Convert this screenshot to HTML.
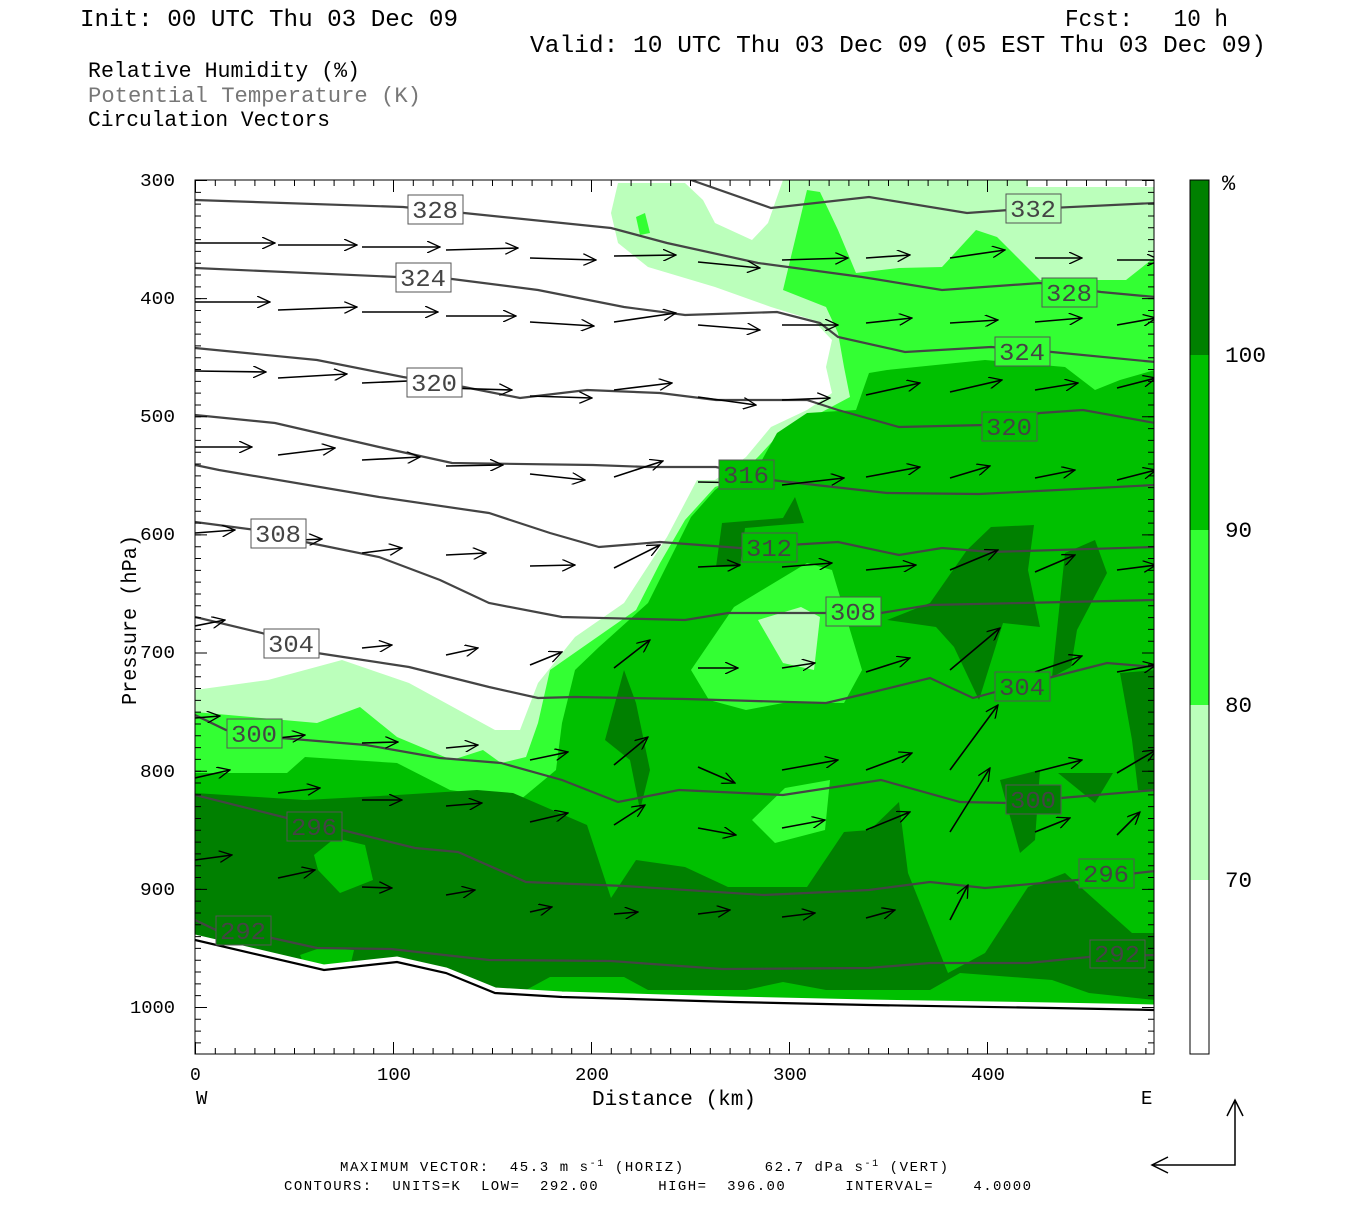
<!DOCTYPE html>
<html><head><meta charset="utf-8"><style>
body{margin:0;background:#fff;width:1350px;height:1200px;overflow:hidden}
svg text{font-family:"Liberation Mono",monospace;white-space:pre}
</style></head><body>
<svg width="1350" height="1200" viewBox="0 0 1350 1200" xmlns="http://www.w3.org/2000/svg">
<defs>
<marker id="ah" markerWidth="14" markerHeight="12" refX="13" refY="6" orient="auto" markerUnits="userSpaceOnUse"><path d="M0,0 L13,6 L0,12" fill="none" stroke="#000" stroke-width="1.3"/></marker>
<clipPath id="pc"><rect x="195" y="180" width="959" height="874"/></clipPath>
</defs>
<text x="80" y="26" font-size="24" textLength="378" lengthAdjust="spacingAndGlyphs">Init: 00 UTC Thu 03 Dec 09</text>
<text x="1065" y="26" font-size="24" textLength="163" lengthAdjust="spacingAndGlyphs">Fcst:   10 h</text>
<text x="530" y="52" font-size="24" textLength="736" lengthAdjust="spacingAndGlyphs">Valid: 10 UTC Thu 03 Dec 09 (05 EST Thu 03 Dec 09)</text>
<text x="88" y="77" font-size="22" textLength="272" lengthAdjust="spacingAndGlyphs">Relative Humidity (%)</text>
<text x="88" y="102" font-size="22" fill="#777" textLength="333" lengthAdjust="spacingAndGlyphs">Potential Temperature (K)</text>
<text x="88" y="126" font-size="22" textLength="242" lengthAdjust="spacingAndGlyphs">Circulation Vectors</text>

<g clip-path="url(#pc)">
<rect x="195" y="180" width="959" height="874" fill="#fff"/>
<polygon fill="#bbffbb" points="618,183 624,183 660,183 685,183 703,200 715,223 752,240 768,223 783,180 1028,180 1028,187 1155,187 1155,1054 195,1054 195,690 268,680 342,660 409,683 495,730 520,730 538,683 575,637 624,603 667,537 697,480 715,480 746,457 771,427 807,410 832,393 826,367 832,340 813,320 771,307 715,287 648,267 618,243 611,213"/>
<polygon fill="#33ff33" points="783,290 807,190 820,192 838,230 856,273 899,268 942,267 976,230 997,237 1040,280 1126,280 1155,257 1155,1054 195,1054 195,712 317,723 360,707 397,737 452,760 483,750 501,763 526,757 538,723 550,670 593,640 636,610 660,563 685,520 715,487 734,480 758,457 783,430 820,413 850,397 844,367 838,333 826,307"/>
<polygon fill="#33ff33" points="636,217 645,213 650,233 640,235"/>
<polygon fill="#00c000" points="728,480 758,467 777,433 807,413 856,410 869,373 887,370 985,360 1065,367 1095,390 1120,380 1155,370 1155,1054 195,1054 195,773 287,773 305,757 397,763 450,790 520,800 556,770 562,723 575,670 599,647 648,603 673,553 691,517 715,490"/>
<polygon fill="#33ff33" points="691,670 734,607 807,563 832,570 862,670 844,703 783,703 746,710 709,700"/>
<polygon fill="#bbffbb" points="758,620 801,607 820,617 814,670 783,663"/>
<polygon fill="#33ff33" points="752,820 785,788 830,780 825,830 775,843"/>
<polygon fill="#008000" points="195,793 305,800 397,795 477,790 513,793 587,825 611,898 636,860 685,867 728,887 807,887 844,832 870,830 899,802 908,873 948,973 985,953 1028,887 1065,873 1095,900 1132,933 1155,933 1155,1054 195,1054"/>
<polygon fill="#00c000" points="314,855 335,838 365,845 373,880 340,893 318,870"/>
<polygon fill="#00c000" points="515,1054 526,990 550,977 624,977 648,990 746,990 783,982 826,990 930,990 960,973 1052,980 1089,993 1155,1000 1155,1054"/>
<polygon fill="#00c000" points="300,955 320,948 354,950 350,967 305,967"/>
<polygon fill="#008000" points="716,567 722,523 783,518 795,497 804,523 745,528 740,567"/>
<polygon fill="#008000" points="887,620 930,603 967,550 991,527 1034,525 1028,570 1040,627 1003,623 979,700 954,647 936,627"/>
<polygon fill="#008000" points="1052,677 1065,553 1095,540 1107,573 1077,630 1071,667"/>
<polygon fill="#008000" points="605,740 624,670 636,703 650,770 640,810 630,760"/>
<polygon fill="#008000" points="1120,673 1155,670 1155,790 1138,790 1132,740"/>
<polygon fill="#008000" points="1000,780 1040,770 1035,840 1020,853"/>
<polygon fill="#008000" points="1058,773 1113,773 1095,803"/>
<polygon fill="#fff" points="195,940 324,970 397,962 446,973 495,993 562,997 734,1002 869,1005 1052,1008 1155,1010 1155,1054 195,1054"/>
<polyline fill="none" stroke="#fff" stroke-width="5" points="195,937 324,967 397,959 446,970 495,990 562,994 734,999 869,1002 1052,1005 1155,1007"/>
<polyline fill="none" stroke="#000" stroke-width="2.2" points="195,940 324,970 397,962 446,973 495,993 562,997 734,1002 869,1005 1052,1008 1155,1010"/>
<g fill="none" stroke="#444" stroke-width="2.2">
<polyline points="691,180 771,208 869,197 967,213 1009,210 1155,203"/>
<polyline points="195,200 403,207 464,213 611,228 667,243 758,263 862,277 942,290 1040,283 1101,292 1155,297"/>
<polyline points="195,268 397,277 452,279 538,290 624,307 685,315 777,312 820,323 838,337 905,352 991,347 1052,352 1155,362"/>
<polyline points="195,348 317,360 403,377 464,387 520,398 587,390 660,393 716,400 807,400 838,410 899,427 985,425 1040,413 1083,410 1155,423"/>
<polyline points="195,415 275,423 379,447 452,463 593,465 648,467 716,467 771,480 887,493 979,494 1155,485"/>
<polyline points="195,465 219,470 379,497 489,513 550,533 599,547 660,542 740,548 838,542 899,555 942,548 991,552 1155,547"/>
<polyline points="195,522 256,530 305,542 379,557 440,580 489,603 562,617 685,620 728,613 826,613 881,613 930,605 1155,600"/>
<polyline points="195,617 262,633 317,653 409,667 489,687 538,698 575,697 685,699 826,703 869,693 930,678 973,698 1010,688 1052,677 1107,663 1155,667"/>
<polyline points="195,715 226,730 281,738 366,745 440,758 501,763 562,780 618,802 679,790 783,795 881,780 960,802 1009,803 1061,798 1155,790"/>
<polyline points="195,795 287,818 342,830 415,848 458,852 526,882 624,886 764,895 869,890 930,882 985,888 1077,880 1155,871"/>
<polyline points="195,920 216,930 272,938 317,948 391,949 489,960 611,961 722,969 869,968 930,963 1028,963 1089,957 1155,955"/>
</g>
<g fill="none" stroke="#000" stroke-width="1.6" marker-end="url(#ah)">
<line x1="195" y1="243" x2="275" y2="243"/><line x1="278" y1="245" x2="357" y2="245"/><line x1="362" y1="247" x2="440" y2="247"/><line x1="446" y1="250" x2="518" y2="248"/><line x1="530" y1="258" x2="596" y2="260"/><line x1="614" y1="256" x2="676" y2="255"/><line x1="698" y1="262" x2="760" y2="268"/><line x1="782" y1="260" x2="848" y2="258"/><line x1="866" y1="258" x2="910" y2="255"/><line x1="950" y1="258" x2="1005" y2="250"/><line x1="1035" y1="258" x2="1082" y2="258"/><line x1="1117" y1="260" x2="1160" y2="260"/>
<line x1="195" y1="302" x2="270" y2="302"/><line x1="278" y1="310" x2="357" y2="307"/><line x1="362" y1="312" x2="438" y2="312"/><line x1="446" y1="316" x2="516" y2="316"/><line x1="530" y1="322" x2="594" y2="326"/><line x1="614" y1="322" x2="676" y2="313"/><line x1="698" y1="325" x2="760" y2="330"/><line x1="782" y1="325" x2="838" y2="325"/><line x1="866" y1="323" x2="912" y2="318"/><line x1="950" y1="323" x2="998" y2="320"/><line x1="1035" y1="322" x2="1082" y2="318"/><line x1="1117" y1="325" x2="1156" y2="318"/>
<line x1="195" y1="371" x2="266" y2="372"/><line x1="278" y1="378" x2="347" y2="374"/><line x1="362" y1="383" x2="430" y2="380"/><line x1="446" y1="388" x2="512" y2="390"/><line x1="530" y1="396" x2="592" y2="398"/><line x1="614" y1="390" x2="672" y2="383"/><line x1="698" y1="397" x2="756" y2="405"/><line x1="782" y1="400" x2="830" y2="398"/><line x1="866" y1="395" x2="920" y2="383"/><line x1="950" y1="392" x2="1002" y2="380"/><line x1="1035" y1="390" x2="1078" y2="383"/><line x1="1117" y1="388" x2="1156" y2="378"/>
<line x1="195" y1="447" x2="252" y2="447"/><line x1="278" y1="455" x2="335" y2="448"/><line x1="362" y1="460" x2="420" y2="457"/><line x1="446" y1="466" x2="503" y2="465"/><line x1="530" y1="474" x2="585" y2="480"/><line x1="614" y1="477" x2="663" y2="461"/><line x1="698" y1="482" x2="754" y2="483"/><line x1="782" y1="485" x2="844" y2="478"/><line x1="866" y1="477" x2="920" y2="467"/><line x1="950" y1="478" x2="990" y2="466"/><line x1="1035" y1="478" x2="1075" y2="470"/><line x1="1117" y1="480" x2="1156" y2="470"/>
<line x1="195" y1="533" x2="235" y2="530"/><line x1="278" y1="541" x2="322" y2="539"/><line x1="362" y1="553" x2="402" y2="548"/><line x1="446" y1="555" x2="486" y2="553"/><line x1="530" y1="566" x2="575" y2="565"/><line x1="614" y1="568" x2="660" y2="545"/><line x1="698" y1="567" x2="740" y2="565"/><line x1="782" y1="567" x2="832" y2="563"/><line x1="866" y1="570" x2="916" y2="565"/><line x1="950" y1="570" x2="998" y2="550"/><line x1="1035" y1="572" x2="1075" y2="555"/><line x1="1117" y1="570" x2="1156" y2="565"/>
<line x1="195" y1="626" x2="225" y2="620"/><line x1="278" y1="647" x2="305" y2="640"/><line x1="362" y1="648" x2="392" y2="645"/><line x1="446" y1="655" x2="478" y2="648"/><line x1="530" y1="665" x2="562" y2="652"/><line x1="614" y1="668" x2="650" y2="640"/><line x1="698" y1="668" x2="738" y2="668"/><line x1="782" y1="668" x2="815" y2="663"/><line x1="866" y1="672" x2="910" y2="658"/><line x1="950" y1="670" x2="1000" y2="628"/><line x1="1035" y1="672" x2="1082" y2="656"/><line x1="1117" y1="672" x2="1156" y2="665"/>
<line x1="195" y1="718" x2="220" y2="716"/><line x1="278" y1="738" x2="305" y2="735"/><line x1="362" y1="743" x2="398" y2="742"/><line x1="446" y1="748" x2="478" y2="745"/><line x1="530" y1="760" x2="568" y2="752"/><line x1="614" y1="765" x2="648" y2="737"/><line x1="698" y1="767" x2="735" y2="783"/><line x1="782" y1="770" x2="838" y2="760"/><line x1="866" y1="770" x2="912" y2="753"/><line x1="950" y1="770" x2="998" y2="705"/><line x1="1035" y1="772" x2="1082" y2="760"/><line x1="1117" y1="773" x2="1156" y2="750"/>
<line x1="195" y1="778" x2="230" y2="770"/><line x1="278" y1="793" x2="320" y2="788"/><line x1="362" y1="800" x2="402" y2="800"/><line x1="446" y1="806" x2="482" y2="803"/><line x1="530" y1="822" x2="568" y2="813"/><line x1="614" y1="825" x2="645" y2="805"/><line x1="698" y1="828" x2="736" y2="835"/><line x1="782" y1="828" x2="825" y2="820"/><line x1="866" y1="830" x2="910" y2="812"/><line x1="950" y1="832" x2="990" y2="768"/><line x1="1035" y1="832" x2="1070" y2="818"/><line x1="1117" y1="835" x2="1140" y2="812"/>
<line x1="195" y1="860" x2="232" y2="855"/><line x1="278" y1="878" x2="315" y2="870"/><line x1="362" y1="887" x2="392" y2="888"/><line x1="446" y1="895" x2="475" y2="890"/><line x1="530" y1="912" x2="552" y2="907"/><line x1="614" y1="914" x2="638" y2="912"/><line x1="698" y1="914" x2="730" y2="910"/><line x1="782" y1="917" x2="815" y2="913"/><line x1="866" y1="918" x2="895" y2="910"/><line x1="950" y1="920" x2="968" y2="885"/>
</g>
<g font-size="24" fill="#444" stroke="#555" stroke-width="1">
<rect x="408" y="195" width="55" height="29" fill="#fff"/><text x="412" y="218" stroke="none" textLength="46" lengthAdjust="spacingAndGlyphs">328</text>
<rect x="396" y="263" width="55" height="29" fill="#fff"/><text x="400" y="286" stroke="none" textLength="46" lengthAdjust="spacingAndGlyphs">324</text>
<rect x="407" y="368" width="55" height="29" fill="#fff"/><text x="411" y="391" stroke="none" textLength="46" lengthAdjust="spacingAndGlyphs">320</text>
<rect x="251" y="519" width="55" height="29" fill="#fff"/><text x="255" y="542" stroke="none" textLength="46" lengthAdjust="spacingAndGlyphs">308</text>
<rect x="264" y="629" width="55" height="29" fill="#fff"/><text x="268" y="652" stroke="none" textLength="46" lengthAdjust="spacingAndGlyphs">304</text>
<rect x="227" y="719" width="55" height="29" fill="#33ff33"/><text x="231" y="742" stroke="none" textLength="46" lengthAdjust="spacingAndGlyphs">300</text>
<rect x="287" y="812" width="55" height="29" fill="#008000"/><text x="291" y="835" stroke="none" textLength="46" lengthAdjust="spacingAndGlyphs">296</text>
<rect x="216" y="916" width="55" height="29" fill="#008000"/><text x="220" y="939" stroke="none" textLength="46" lengthAdjust="spacingAndGlyphs">292</text>
<rect x="1006" y="194" width="55" height="29" fill="#bbffbb"/><text x="1010" y="217" stroke="none" textLength="46" lengthAdjust="spacingAndGlyphs">332</text>
<rect x="1042" y="278" width="55" height="29" fill="#33ff33"/><text x="1046" y="301" stroke="none" textLength="46" lengthAdjust="spacingAndGlyphs">328</text>
<rect x="995" y="337" width="55" height="29" fill="#33ff33"/><text x="999" y="360" stroke="none" textLength="46" lengthAdjust="spacingAndGlyphs">324</text>
<rect x="982" y="412" width="55" height="29" fill="#00c000"/><text x="986" y="435" stroke="none" textLength="46" lengthAdjust="spacingAndGlyphs">320</text>
<rect x="719" y="460" width="55" height="29" fill="#00c000"/><text x="723" y="483" stroke="none" textLength="46" lengthAdjust="spacingAndGlyphs">316</text>
<rect x="742" y="533" width="55" height="29" fill="#00c000"/><text x="746" y="556" stroke="none" textLength="46" lengthAdjust="spacingAndGlyphs">312</text>
<rect x="826" y="597" width="55" height="29" fill="#33ff33"/><text x="830" y="620" stroke="none" textLength="46" lengthAdjust="spacingAndGlyphs">308</text>
<rect x="995" y="672" width="55" height="29" fill="#00c000"/><text x="999" y="695" stroke="none" textLength="46" lengthAdjust="spacingAndGlyphs">304</text>
<rect x="1006" y="785" width="55" height="29" fill="#008000"/><text x="1010" y="808" stroke="none" textLength="46" lengthAdjust="spacingAndGlyphs">300</text>
<rect x="1079" y="859" width="55" height="29" fill="#00c000"/><text x="1083" y="882" stroke="none" textLength="46" lengthAdjust="spacingAndGlyphs">296</text>
<rect x="1090" y="940" width="55" height="28" fill="#008000"/><text x="1094" y="962" stroke="none" textLength="46" lengthAdjust="spacingAndGlyphs">292</text>
</g>
</g>
<rect x="195" y="180" width="959" height="874" fill="none" stroke="#000" stroke-width="1"/>
<g stroke="#000" fill="none">
<line x1="195" y1="1051" x2="1154" y2="1051" stroke-width="6" stroke-dasharray="1 18.8"/>
<line x1="195" y1="183" x2="1154" y2="183" stroke-width="6" stroke-dasharray="1 18.8"/>
<line x1="195" y1="1048" x2="1154" y2="1048" stroke-width="12" stroke-dasharray="1 197"/>
<line x1="195" y1="186" x2="1154" y2="186" stroke-width="12" stroke-dasharray="1 197"/>
<line x1="198" y1="180" x2="198" y2="1054" stroke-width="6" stroke-dasharray="1 10.814"/>
<line x1="1151" y1="180" x2="1151" y2="1054" stroke-width="6" stroke-dasharray="1 10.814"/>
<line x1="201" y1="180" x2="201" y2="1054" stroke-width="12" stroke-dasharray="1 117.14"/>
<line x1="1148" y1="180" x2="1148" y2="1054" stroke-width="12" stroke-dasharray="1 117.14"/>
</g>
<g font-size="18">
<text x="140" y="186" textLength="35" lengthAdjust="spacingAndGlyphs">300</text><text x="140" y="304" textLength="35" lengthAdjust="spacingAndGlyphs">400</text><text x="140" y="422" textLength="35" lengthAdjust="spacingAndGlyphs">500</text><text x="140" y="540" textLength="35" lengthAdjust="spacingAndGlyphs">600</text><text x="140" y="658" textLength="35" lengthAdjust="spacingAndGlyphs">700</text><text x="140" y="777" textLength="35" lengthAdjust="spacingAndGlyphs">800</text><text x="140" y="895" textLength="35" lengthAdjust="spacingAndGlyphs">900</text><text x="130" y="1013" textLength="45" lengthAdjust="spacingAndGlyphs">1000</text>
<text x="190" y="1080">0</text><text x="377" y="1080" textLength="34" lengthAdjust="spacingAndGlyphs">100</text><text x="575" y="1080" textLength="34" lengthAdjust="spacingAndGlyphs">200</text><text x="773" y="1080" textLength="34" lengthAdjust="spacingAndGlyphs">300</text><text x="971" y="1080" textLength="34" lengthAdjust="spacingAndGlyphs">400</text>
<text x="196" y="1104" font-size="19">W</text><text x="1141" y="1104" font-size="19">E</text>
</g>
<text x="592" y="1105" font-size="21" textLength="164" lengthAdjust="spacingAndGlyphs">Distance (km)</text>
<text transform="translate(136,705) rotate(-90)" font-size="21" textLength="170" lengthAdjust="spacingAndGlyphs">Pressure (hPa)</text>
<rect x="1190" y="880" width="19" height="174" fill="#fff"/>
<rect x="1190" y="705" width="19" height="175" fill="#bbffbb"/>
<rect x="1190" y="530" width="19" height="175" fill="#33ff33"/>
<rect x="1190" y="355" width="19" height="175" fill="#00c000"/>
<rect x="1190" y="180" width="19" height="175" fill="#008000"/>
<rect x="1190" y="180" width="19" height="874" fill="none" stroke="#000"/>
<g font-size="22"><text x="1222" y="190">%</text><text x="1225" y="362" textLength="41" lengthAdjust="spacingAndGlyphs">100</text><text x="1225" y="537" textLength="27" lengthAdjust="spacingAndGlyphs">90</text><text x="1225" y="712" textLength="27" lengthAdjust="spacingAndGlyphs">80</text><text x="1225" y="887" textLength="27" lengthAdjust="spacingAndGlyphs">70</text></g>
<g font-size="14">
<text x="340" y="1171" textLength="608" lengthAdjust="spacing">MAXIMUM VECTOR:  45.3 m s<tspan dy="-5" font-size="10">-1</tspan><tspan dy="5"> (HORIZ)        62.7 dPa s</tspan><tspan dy="-5" font-size="10">-1</tspan><tspan dy="5"> (VERT)</tspan></text>
<text x="284" y="1190" textLength="747" lengthAdjust="spacing">CONTOURS:  UNITS=K  LOW=  292.00      HIGH=  396.00      INTERVAL=    4.0000</text>
</g>
<g fill="none" stroke="#000" stroke-width="1.5">
<polyline points="1152,1165 1235,1165 1235,1100"/>
<polyline points="1168,1157 1152,1165 1168,1173"/>
<polyline points="1227,1116 1235,1100 1243,1116"/>
</g>
</svg>
</body></html>
